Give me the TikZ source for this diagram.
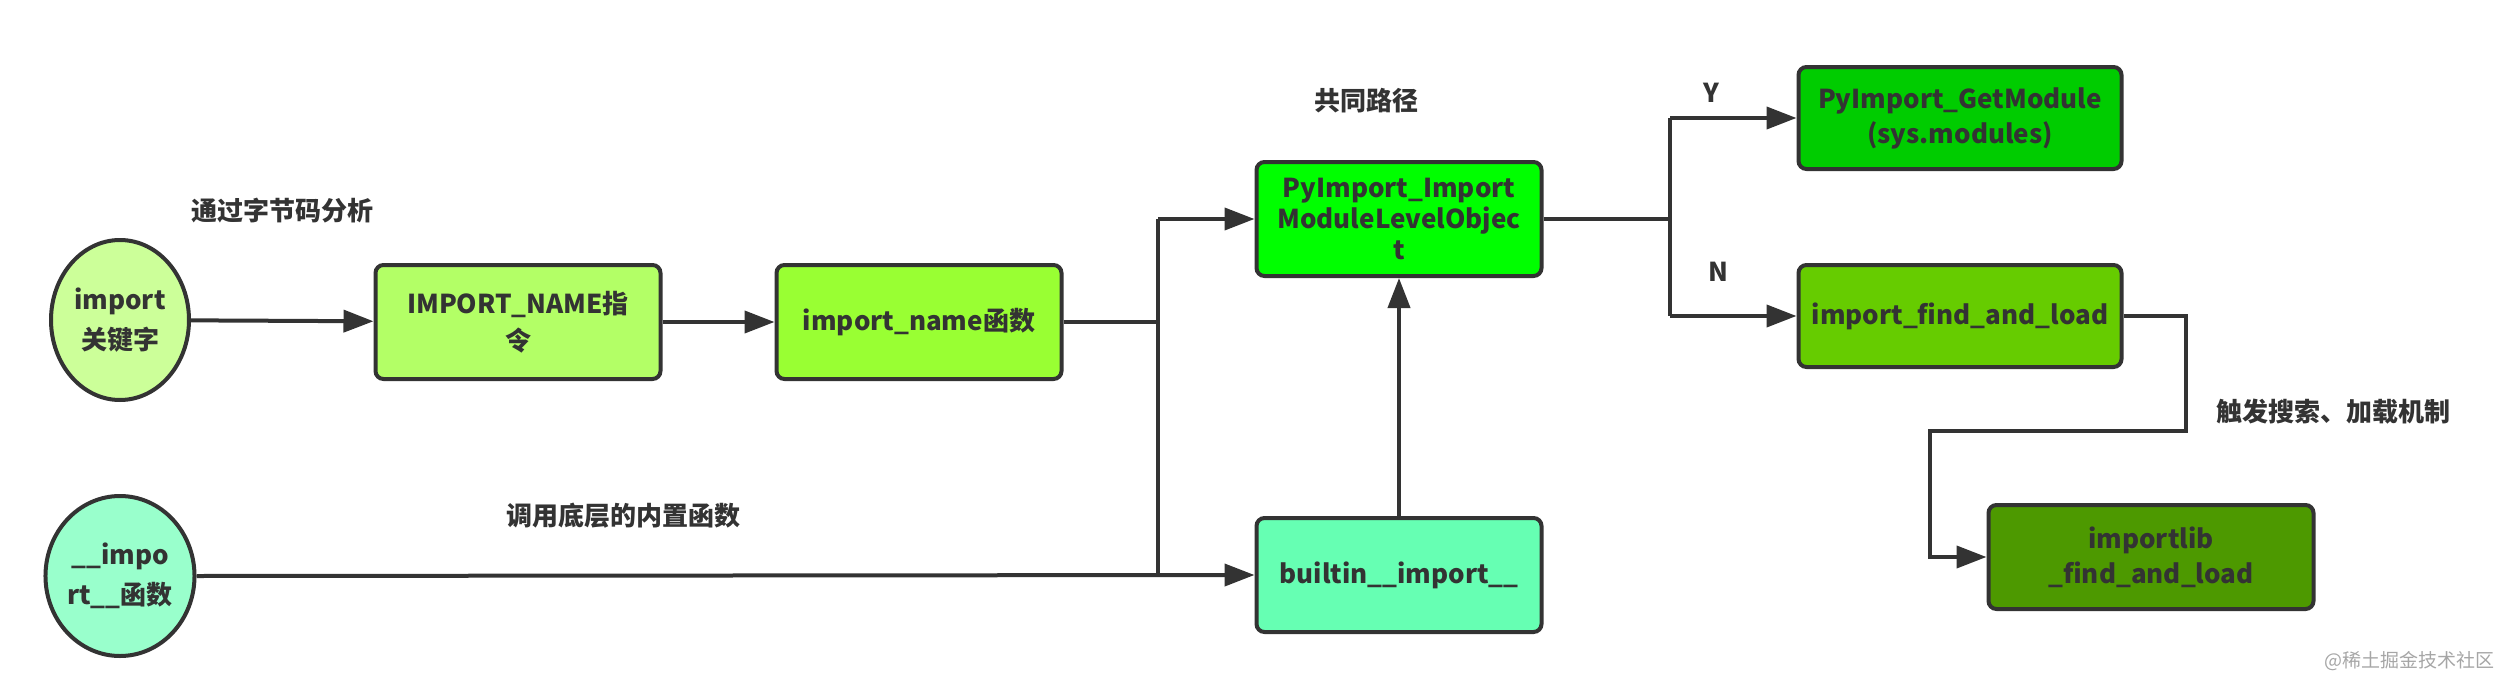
\documentclass[tikz,border=0pt]{standalone}
\usepackage{fontspec}
\setmainfont{Noto Sans CJK SC}
\usetikzlibrary{arrows.meta,shapes.geometric}
\definecolor{ink}{HTML}{333333}
\definecolor{cA}{HTML}{CCFF99}
\definecolor{cB}{HTML}{B3FF66}
\definecolor{cC}{HTML}{99FF33}
\definecolor{cD}{HTML}{99FFCC}
\definecolor{cE}{HTML}{00FF00}
\definecolor{cF}{HTML}{66FFB3}
\definecolor{cG}{HTML}{00CC00}
\definecolor{cH}{HTML}{66CC00}
\definecolor{cI}{HTML}{4D9900}
\newcommand{\fs}[1]{\fontsize{26}{#1}\selectfont\bfseries}
\begin{document}
\begin{tikzpicture}[x=1pt,y=-1pt,
  every node/.style={font=\fs{31}, text=ink, inner sep=0pt},
  boxnode/.style={draw=ink, line width=4pt, rounded corners=8pt, align=center,
    minimum width=#1, minimum height=114pt},
  boxnode/.default=285pt,
  roundnode/.style={draw=ink, line width=4pt, shape=ellipse, minimum width=138pt, minimum height=160pt, align=center},
  lbl/.style={font=\fs{31}},
  conn/.style={draw=ink, line width=4pt},
  arr/.style={conn, -{Triangle[length=30pt,width=22pt]}}
]
\useasboundingbox (0,0) rectangle (2506,696);
% nodes
\node[roundnode, fill=cA, font=\fs{40}] (kw) at (120,320) {import\\关键字};
\node[boxnode, fill=cB, font=\fs{37}] (op) at (518,322) {IMPORT\_NAME指\\令};
\node[boxnode, fill=cC] (fn) at (919,322) {import\_name函数};
\node[roundnode, fill=cD, font=\fs{40}] (bi) at (120,576) {\_\_impo\\rt\_\_函数};
\node[boxnode, fill=cE] (lvl) at (1399,219) {PyImport\_Import\\ModuleLevelObjec\\t};
\node[boxnode, fill=cF] (bim) at (1399,575) {builtin\_\_import\_\_};
\node[boxnode=323pt, fill=cG, minimum height=102pt, font=\fs{35}] (gm) at (1960,118) {PyImport\_GetModule\\(sys.modules)};
\node[boxnode=323pt, fill=cH, minimum height=102pt] (fl) at (1960,316) {import\_find\_and\_load};
\node[boxnode=325pt, fill=cI, minimum height=104pt, font=\fs{35}] (ifl) at (2151,557) {importlib\\\_find\_and\_load};
% labels
\node[lbl] (t1) at (282,211) {通过字节码分析};
\node[lbl] (t2) at (623,516) {调用底层的内置函数};
\node[lbl] (t3) at (1366,101) {共同路径};
\node[lbl] (ty) at (1711,93) {Y};
\node[lbl] (tn) at (1718,272) {N};
\node[lbl] (t4) at (2333,412) {触发搜索、加载机制};
\node[font=\fontsize{19}{22}\selectfont, text=black!35] (wm) at (2409,661) {@稀土掘金技术社区};
% junction coordinates
\coordinate (j1) at (1158,322);
\coordinate (j1t) at (1158,219);
\coordinate (j1b) at (1158,575);
\coordinate (j2) at (1670,219);
\coordinate (j2t) at (1670,118);
\coordinate (j2b) at (1670,316);
\coordinate (k1) at (2186,316);
\coordinate (k2) at (2186,431);
\coordinate (k3) at (1930,431);
\coordinate (k4) at (1930,557);
% connectors
\draw[arr] (kw) -- (op);
\draw[arr] (op) -- (fn);
\draw[conn] (fn.east) -- (j1);
\draw[conn] (j1t) -- (j1b);
\draw[arr] (j1t) -- (lvl.west);
\draw[arr] (bi.east) -- (bim.west);
\draw[arr] (bim.north) -- (lvl.south);
\draw[conn] (lvl.east) -- (j2);
\draw[conn] (j2t) -- (j2b);
\draw[arr] (j2t) -- (gm.west);
\draw[arr] (j2b) -- (fl.west);
\draw[arr, line join=miter] (fl.east) -- (k1) -- (k2) -- (k3) -- (k4) -- (ifl.west);
\end{tikzpicture}
\end{document}
